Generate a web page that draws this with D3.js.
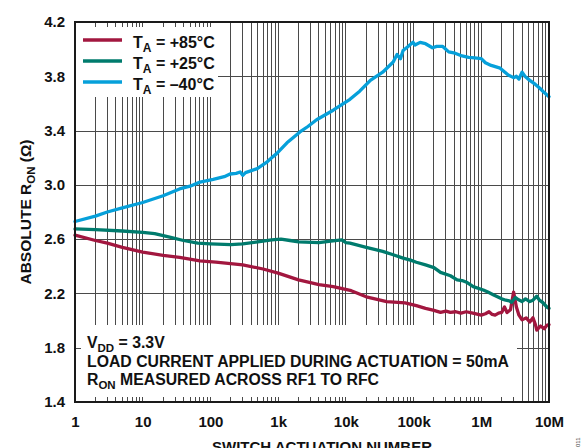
<!DOCTYPE html>
<html>
<head>
<meta charset="utf-8">
<script src="https://cdn.jsdelivr.net/npm/d3@7"></script>
<style>
  html, body { margin: 0; padding: 0; background: #fff; }
  svg { display: block; font-family: "Liberation Sans", Arial, sans-serif; font-weight: bold; }
</style>
</head>
<body>
<svg id="chart" width="582" height="448"></svg>
<script>
// Absolute on-resistance vs. number of switch actuations, three ambient temperatures.
// Each series: [actuation count, R_ON in ohms]
const ron85 = [
  [1, 2.63], [2, 2.59], [3, 2.57], [5, 2.54], [10, 2.505], [20, 2.48], [35, 2.465],
  [70, 2.44], [120, 2.43], [300, 2.41], [600, 2.38], [1000, 2.35], [2000, 2.30],
  [3000, 2.28], [4000, 2.265], [6500, 2.25], [12000, 2.22], [20000, 2.175], [30000, 2.155],
  [40000, 2.14], [75000, 2.13], [110000, 2.11], [150000, 2.09], [200000, 2.075], [250000, 2.06],
  [300000, 2.07], [350000, 2.06], [420000, 2.065], [500000, 2.055], [600000, 2.065],
  [750000, 2.055], [900000, 2.045], [1000000, 2.04], [1150000, 2.05], [1300000, 2.065],
  [1450000, 2.045], [1600000, 2.04], [1800000, 2.055], [2000000, 2.06], [2200000, 2.10],
  [2400000, 2.06], [2700000, 2.08], [3000000, 2.21], [3300000, 2.10], [3600000, 2.04],
  [4000000, 2.005], [4600000, 2.02], [5200000, 1.99], [5800000, 2.02], [6300000, 1.97],
  [6600000, 1.93], [7500000, 1.96], [8500000, 1.94], [9300000, 1.965], [10000000, 1.97]
];
const ron25 = [
  [1, 2.675], [2, 2.67], [5, 2.66], [10, 2.65], [15, 2.64], [25, 2.615], [40, 2.59],
  [65, 2.57], [100, 2.565], [200, 2.56], [300, 2.565], [500, 2.58], [800, 2.595],
  [1100, 2.60], [1500, 2.59], [2000, 2.58], [4000, 2.575], [6000, 2.585], [8700, 2.595],
  [10000, 2.575], [11500, 2.57], [20000, 2.54], [35000, 2.51], [50000, 2.485], [70000, 2.46],
  [90000, 2.445], [110000, 2.43], [150000, 2.41], [200000, 2.39], [250000, 2.355],
  [350000, 2.33], [440000, 2.30], [520000, 2.295], [620000, 2.28], [760000, 2.25],
  [1070000, 2.225], [1250000, 2.21], [1500000, 2.19], [2000000, 2.16], [2300000, 2.15],
  [2600000, 2.145], [2800000, 2.135], [3200000, 2.17], [3500000, 2.155], [4000000, 2.14],
  [4500000, 2.16], [5200000, 2.14], [5800000, 2.15], [6600000, 2.18], [7200000, 2.15],
  [8000000, 2.135], [9300000, 2.10], [10000000, 2.09]
];
const ronMinus40 = [
  [1, 2.73], [2, 2.77], [3, 2.80], [5, 2.83], [10, 2.87], [20, 2.92], [35, 2.97],
  [50, 2.99], [70, 3.02], [110, 3.04], [160, 3.06], [195, 3.08], [240, 3.085],
  [275, 3.095], [300, 3.07], [330, 3.09], [490, 3.12], [690, 3.17], [850, 3.21],
  [950, 3.23], [1350, 3.31], [2100, 3.39], [2750, 3.43], [3700, 3.48], [6500, 3.55],
  [11500, 3.63], [16000, 3.69], [23000, 3.77], [35000, 3.83], [50000, 3.905],
  [57000, 3.96], [64000, 3.93], [70000, 3.99], [83000, 4.02], [98000, 4.05],
  [105000, 4.03], [125000, 4.05], [150000, 4.04], [190000, 4.01], [220000, 4.02],
  [270000, 4.02], [330000, 3.98], [410000, 3.97], [520000, 3.95], [650000, 3.94],
  [800000, 3.935], [1000000, 3.93], [1150000, 3.90], [1400000, 3.88], [1900000, 3.86],
  [2500000, 3.81], [3000000, 3.79], [3300000, 3.80], [3600000, 3.78], [4000000, 3.83],
  [4400000, 3.80], [5200000, 3.77], [6300000, 3.74], [7400000, 3.71], [8500000, 3.68],
  [10000000, 3.65]
];

const xTickValues = [1, 10, 100, 1e3, 1e4, 1e5, 1e6, 1e7];
const xTickLabels = ["1", "10", "100", "1k", "10k", "100k", "1M", "10M"];
const yTickValues = [1.4, 1.8, 2.2, 2.6, 3.0, 3.4, 3.8, 4.2];
const yTickLabels = ["1.4", "1.8", "2.2", "2.6", "3.0", "3.4", "3.8", "4.2"];

const seriesNames = ["+85°C", "+25°C", "–40°C"];
const seriesColors = ["#a2173f", "#007b6d", "#06a0da"];
const seriesData = [ron85, ron25, ronMinus40];

const notes = [
  { main: "V", sub: "DD", rest: " = 3.3V" },
  { main: "LOAD CURRENT APPLIED DURING ACTUATION = 50mA", sub: "", rest: "" },
  { main: "R", sub: "ON", rest: " MEASURED ACROSS RF1 TO RFC" }
];

const W = 582, H = 448;
const margin = { top: 22, right: 33, bottom: 46, left: 75 };
const innerW = W - margin.left - margin.right;
const innerH = H - margin.top - margin.bottom;

const svg = d3.select("#chart");
const g = svg.append("g").attr("transform", `translate(${margin.left},${margin.top})`);

const x = d3.scaleLog().domain([1, 1e7]).range([0, innerW]);
const y = d3.scaleLinear().domain([1.4, 4.2]).range([innerH, 0]);

// every 1..9 × decade position for the log grid
const logGrid = [];
for (let e = 0; e < 7; e++) for (let m = 1; m < 10; m++) logGrid.push(m * Math.pow(10, e));
logGrid.push(1e7);

const gridColor = "#4a4a4a";

// vertical grid
g.append("g").selectAll("line").data(logGrid.filter(v => v > 1 && v < 1e7)).join("line")
  .attr("x1", d => x(d)).attr("x2", d => x(d))
  .attr("y1", 0).attr("y2", innerH)
  .attr("stroke", gridColor).attr("stroke-width", 1).attr("shape-rendering", "crispEdges");

// horizontal grid
g.append("g").selectAll("line").data(yTickValues.filter(v => v > 1.4 && v < 4.2)).join("line")
  .attr("x1", 0).attr("x2", innerW)
  .attr("y1", d => Math.round(y(d)) + 0.5).attr("y2", d => Math.round(y(d)) + 0.5)
  .attr("stroke", gridColor).attr("stroke-width", 1);

// white panels behind legend and notes
g.append("rect").attr("x", 0).attr("y", 5).attr("width", 143).attr("height", 70).attr("fill", "#fff");
g.append("rect").attr("x", 6).attr("y", 303).attr("width", 436).attr("height", 72).attr("fill", "#fff");

// inward ticks on top and bottom edges
const tickLen = 5;
g.append("g").selectAll("line").data(logGrid).join("line")
  .attr("x1", d => x(d)).attr("x2", d => x(d))
  .attr("y1", innerH).attr("y2", innerH - tickLen)
  .attr("stroke", gridColor).attr("stroke-width", 1).attr("shape-rendering", "crispEdges");
g.append("g").selectAll("line").data(logGrid).join("line")
  .attr("x1", d => x(d)).attr("x2", d => x(d))
  .attr("y1", 0).attr("y2", tickLen)
  .attr("stroke", gridColor).attr("stroke-width", 1).attr("shape-rendering", "crispEdges");
g.append("line").attr("x1", 0).attr("x2", 6)
  .attr("y1", Math.round(y(1.8)) + 0.5).attr("y2", Math.round(y(1.8)) + 0.5)
  .attr("stroke", gridColor).attr("stroke-width", 1);

// series
const line = d3.line().x(d => x(d[0])).y(d => y(d[1]));
g.append("g").selectAll("path").data(seriesData).join("path")
  .attr("d", line)
  .attr("fill", "none")
  .attr("stroke", (d, i) => seriesColors[i])
  .attr("stroke-width", 3.3)
  .attr("stroke-linejoin", "round")
  .attr("stroke-linecap", "round");

// frame
g.append("rect").attr("x", 0).attr("y", 0).attr("width", innerW).attr("height", innerH)
  .attr("fill", "none").attr("stroke", "#1a1a1a").attr("stroke-width", 2);

// axes labels via d3 axes, tick marks hidden (drawn inward above)
const xAxis = d3.axisBottom(x).tickValues(xTickValues)
  .tickFormat((d, i) => xTickLabels[i]).tickSize(0).tickPadding(14);
const xa = g.append("g").attr("transform", `translate(0,${innerH})`).call(xAxis);
xa.select(".domain").remove();
xa.selectAll("text").attr("font-size", 15).attr("font-weight", "bold")
  .attr("font-family", "Liberation Sans, Arial, sans-serif").attr("fill", "#111");

const yAxis = d3.axisLeft(y).tickValues(yTickValues)
  .tickFormat((d, i) => yTickLabels[i]).tickSize(0).tickPadding(10);
const ya = g.append("g").call(yAxis);
ya.select(".domain").remove();
ya.selectAll("text").attr("font-size", 15).attr("font-weight", "bold")
  .attr("font-family", "Liberation Sans, Arial, sans-serif").attr("fill", "#111");

// axis titles
const yTitle = svg.append("text")
  .attr("transform", `translate(31,${margin.top + innerH / 2}) rotate(-90)`)
  .attr("text-anchor", "middle").attr("font-size", 15.5).attr("fill", "#111");
yTitle.append("tspan").text("ABSOLUTE R");
yTitle.append("tspan").text("ON").attr("font-size", 11.5).attr("dy", 4);
yTitle.append("tspan").text(" (Ω)").attr("dy", -4);

svg.append("text").attr("x", margin.left + innerW / 2 + 10).attr("y", 452)
  .attr("text-anchor", "middle").attr("font-size", 15).attr("fill", "#111")
  .text("SWITCH ACTUATION NUMBER");

svg.append("text").attr("transform", "translate(580,447) rotate(-90)")
  .attr("font-size", 6).attr("font-weight", "normal").attr("fill", "#444")
  .text("011");

// legend
const leg = g.append("g").attr("transform", "translate(8,18)");
seriesNames.forEach((name, i) => {
  const row = leg.append("g").attr("transform", `translate(0,${i * 21})`);
  row.append("line").attr("x1", 0).attr("x2", 39).attr("y1", 0).attr("y2", 0)
    .attr("stroke", seriesColors[i]).attr("stroke-width", 3.3);
  const t = row.append("text").attr("x", 50).attr("y", 8).attr("font-size", 16).attr("fill", "#111");
  t.append("tspan").text("T");
  t.append("tspan").text("A").attr("font-size", 12).attr("dy", 4);
  t.append("tspan").text(" = " + name).attr("dy", -4);
});

// measurement notes
notes.forEach((n, i) => {
  const t = g.append("text").attr("x", 12).attr("y", 326 + i * 18.5)
    .attr("font-size", 15.8).attr("fill", "#111");
  t.append("tspan").text(n.main);
  if (n.sub) {
    t.append("tspan").text(n.sub).attr("font-size", 11.5).attr("dy", 3.5);
    t.append("tspan").text(n.rest).attr("dy", -3.5);
  }
});
</script>
</body>
</html>
